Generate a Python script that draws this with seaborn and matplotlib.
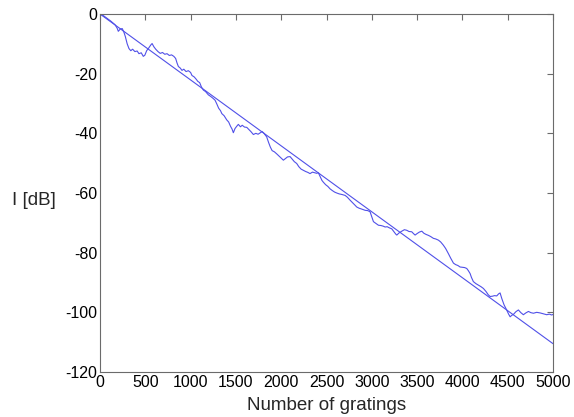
import numpy as np
import pandas as pd
import matplotlib
matplotlib.use("Agg")
import matplotlib.pyplot as plt
import seaborn as sns

# Measured transmitted intensity versus number of gratings
gratings = [0, 40, 80, 120, 166, 190, 202, 225, 246, 265, 280, 300, 320, 340, 360, 385, 410, 430,
            455, 478, 495, 515, 540, 560, 575, 595, 615, 640, 665, 690, 715, 740, 765, 790, 815,
            835, 850, 865, 885, 905, 925, 950, 975, 1000, 1015, 1040, 1060, 1080, 1100, 1120,
            1141, 1165, 1196, 1220, 1245, 1270, 1290, 1310, 1330, 1345, 1370, 1399, 1420, 1440,
            1458, 1472, 1490, 1510, 1527, 1550, 1570, 1595, 1620, 1640, 1665, 1693, 1720, 1745,
            1766, 1790, 1810, 1840, 1860, 1880, 1900, 1925, 1951, 1975, 2000, 2024, 2045, 2070,
            2098, 2120, 2145, 2171, 2195, 2220, 2245, 2270, 2295, 2318, 2345, 2370, 2392, 2410,
            2430, 2450, 2466, 2490, 2515, 2539, 2565, 2590, 2613, 2640, 2670, 2705, 2730, 2760,
            2790, 2815, 2834, 2860, 2890, 2926, 2955, 2981, 3000, 3018, 3045, 3073, 3100, 3125,
            3147, 3170, 3195, 3220, 3245, 3265, 3276, 3300, 3331, 3360, 3386, 3410, 3441, 3460,
            3478, 3500, 3525, 3552, 3575, 3600, 3625, 3650, 3680, 3705, 3735, 3760, 3790, 3815,
            3845, 3870, 3901, 3925, 3950, 3974, 4000, 4025, 4048, 4065, 4085, 4100, 4121, 4150,
            4177, 4205, 4232, 4260, 4285, 4306, 4330, 4355, 4379, 4400, 4416, 4435, 4460, 4490,
            4510, 4527, 4545, 4563, 4590, 4618, 4645, 4673, 4700, 4729, 4755, 4784, 4820, 4858,
            4895, 4931, 4960, 4986, 5000]
intensity_db = [0.0, -0.6, -1.5, -2.4, -3.6, -4.8, -5.8, -5.0, -4.9, -6.2, -7.6, -10.0, -11.6,
                -12.3, -11.8, -12.6, -12.4, -13.3, -13.0, -14.2, -13.8, -12.3, -11.3, -10.4, -9.9,
                -11.0, -11.8, -12.6, -13.2, -12.9, -13.5, -13.3, -13.9, -13.7, -14.2, -14.9, -16.4,
                -17.6, -18.1, -18.9, -18.5, -19.3, -19.0, -19.6, -20.6, -21.1, -21.8, -22.6, -23.0,
                -24.5, -25.5, -26.0, -27.1, -27.6, -28.2, -28.9, -30.2, -31.6, -32.4, -33.4, -34.1,
                -35.5, -36.2, -37.6, -38.6, -39.8, -38.4, -37.6, -37.0, -37.8, -37.3, -37.9, -38.0,
                -38.6, -39.4, -40.4, -40.0, -40.3, -39.9, -39.4, -40.0, -41.2, -43.0, -44.6, -45.8,
                -46.2, -46.9, -47.6, -48.3, -49.0, -48.5, -47.9, -47.8, -48.6, -49.5, -50.1, -51.2,
                -52.0, -52.4, -52.8, -53.1, -53.5, -53.0, -53.2, -53.4, -53.2, -54.5, -55.8, -56.4,
                -57.2, -57.8, -58.6, -59.2, -59.7, -60.0, -60.3, -60.5, -60.8, -61.4, -62.4, -63.3,
                -64.1, -64.7, -65.1, -65.4, -65.8, -65.9, -66.3, -68.0, -69.6, -70.2, -70.8, -70.9,
                -71.1, -71.4, -71.3, -71.7, -72.0, -73.0, -73.8, -74.1, -73.4, -72.8, -72.3, -72.5,
                -72.9, -73.0, -73.6, -74.1, -73.6, -73.1, -72.8, -73.5, -73.9, -74.2, -74.6, -75.2,
                -75.4, -75.8, -76.4, -77.5, -78.6, -80.3, -81.8, -83.5, -84.0, -84.3, -84.8, -84.9,
                -85.0, -85.3, -86.0, -87.0, -88.3, -89.7, -90.4, -90.9, -91.4, -92.0, -93.0, -94.1,
                -94.7, -94.6, -94.4, -94.5, -93.8, -93.5, -95.4, -97.5, -99.3, -100.6, -101.5,
                -101.0, -100.7, -99.8, -99.2, -100.1, -100.8, -100.2, -99.7, -100.1, -100.3,
                -100.0, -100.2, -100.5, -100.8, -100.6, -100.9, -100.7]

# Linear loss trend (dB)
trend_x = [0, 5000]
trend_db = [0.0, -110.5]

x_ticks = [0, 500, 1000, 1500, 2000, 2500, 3000, 3500, 4000, 4500, 5000]
y_ticks = [0, -20, -40, -60, -80, -100, -120]

sns.set_style("white")
plt.rcParams["font.family"] = ["Liberation Sans", "DejaVu Sans"]

measured = pd.DataFrame({"gratings": gratings, "I": intensity_db})
trend = pd.DataFrame({"gratings": trend_x, "I": trend_db})

fig = plt.figure(figsize=(5.74, 4.17), dpi=100)
ax = fig.add_axes([100 / 574, 1 - 372 / 417, 453 / 574, 358 / 417])

line_color = "#5050e8"
sns.lineplot(data=measured, x="gratings", y="I", ax=ax, color=line_color, linewidth=0.8)
sns.lineplot(data=trend, x="gratings", y="I", ax=ax, color=line_color, linewidth=0.8)

ax.set_xlim(0, 5000)
ax.set_ylim(-120, 0)
ax.set_xticks(x_ticks)
ax.set_yticks(y_ticks)
ax.set_xticklabels([str(t) for t in x_ticks])
ax.set_yticklabels([str(t) for t in y_ticks])

for side in ["top", "right", "bottom", "left"]:
    ax.spines[side].set_visible(True)
    ax.spines[side].set_color("#6b6b6b")
    ax.spines[side].set_linewidth(0.8)

ax.tick_params(axis="both", which="both", direction="in", length=4, width=0.8,
               color="#6b6b6b", top=True, right=True, labelsize=11.5, pad=2,
               labelcolor="black")

ax.set_xlabel("Number of gratings", fontsize=13.5, labelpad=5)
ax.set_ylabel("I [dB]", fontsize=13.5, rotation=0, va="center")
ax.yaxis.set_label_coords(-0.145, 0.48)

fig.savefig("out.png", dpi=100)
